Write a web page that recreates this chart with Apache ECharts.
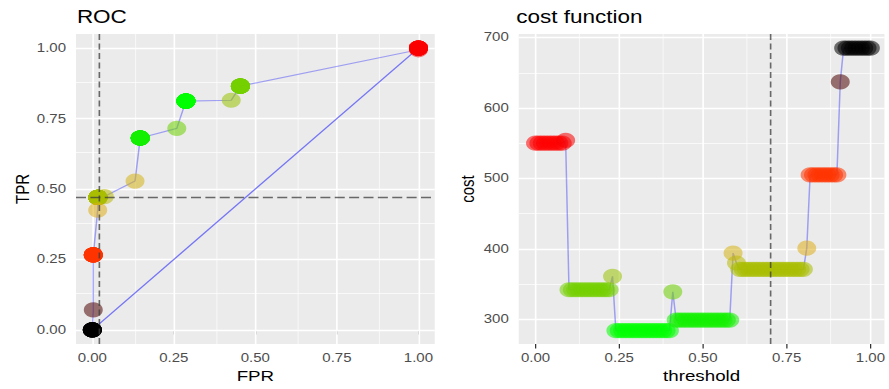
<!DOCTYPE html>
<html>
<head>
<meta charset="utf-8">
<script src="https://cdn.jsdelivr.net/npm/echarts@6/dist/echarts.min.js"></script>
<style>
html,body{margin:0;padding:0;background:#fff;overflow:hidden}
#wrap{width:889px;height:389px;overflow:hidden;position:relative}
#chart{width:711.2px;height:389px;transform:scaleX(1.25);transform-origin:0 0}
</style>
</head>
<body>
<div id="wrap"><div id="chart"></div></div>
<script>
// ---------------- data ----------------
const threshold = [
  0.00,0.01,0.02,0.03,0.04,0.05,0.06,0.07,0.08,0.09,
  0.10,0.11,0.12,0.13,0.14,0.15,0.16,0.17,0.18,0.19,
  0.20,0.21,0.22,0.23,0.24,0.25,0.26,0.27,0.28,0.29,
  0.30,0.31,0.32,0.33,0.34,0.35,0.36,0.37,0.38,0.39,
  0.40,0.41,0.42,0.43,0.44,0.45,0.46,0.47,0.48,0.49,
  0.50,0.51,0.52,0.53,0.54,0.55,0.56,0.57,0.58,0.59,
  0.60,0.61,0.62,0.63,0.64,0.65,0.66,0.67,0.68,0.69,
  0.70,0.71,0.72,0.73,0.74,0.75,0.76,0.77,0.78,0.79,
  0.80,0.81,0.82,0.83,0.84,0.85,0.86,0.87,0.88,0.89,
  0.90,0.91,0.92,0.93,0.94,0.95,0.96,0.97,0.98,0.99,
  1.00
];
const cost = [
  550,550,550,550,550,550,550,550,550,554,
  342,342,342,342,342,342,342,342,342,342,
  342,342,342,361,284,284,284,284,284,284,
  284,284,284,284,284,284,284,284,284,284,
  284,339,299,299,299,299,299,299,299,299,
  299,299,299,299,299,299,299,299,299,394,
  380,371,371,371,371,371,371,371,371,371,
  371,371,371,371,371,371,371,371,371,371,
  371,401,505,505,505,505,505,505,505,505,
  505,637,685,685,685,685,685,685,685,685,
  685
];
const fpr = [
  1,1,1,1,1,1,1,1,1,1,
  0.454,0.454,0.454,0.454,0.454,0.454,0.454,0.454,0.454,0.454,
  0.454,0.454,0.454,0.426,0.287,0.287,0.287,0.287,0.287,0.287,
  0.287,0.287,0.287,0.287,0.287,0.287,0.287,0.287,0.287,0.287,
  0.287,0.259,0.147,0.147,0.147,0.147,0.147,0.147,0.147,0.147,
  0.147,0.147,0.147,0.147,0.147,0.147,0.147,0.147,0.147,0.131,
  0.037,0.017,0.017,0.017,0.017,0.017,0.017,0.017,0.017,0.017,
  0.017,0.017,0.017,0.017,0.017,0.017,0.017,0.017,0.017,0.017,
  0.017,0.0165,0.003,0.003,0.003,0.003,0.003,0.003,0.003,0.003,
  0.003,0.003,0,0,0,0,0,0,0,0,
  0
];
const tpr = [
  1,1,1,1,1,1,1,1,1,0.994,
  0.865,0.865,0.865,0.865,0.865,0.865,0.865,0.865,0.865,0.865,
  0.865,0.865,0.865,0.815,0.812,0.812,0.812,0.812,0.812,0.812,
  0.812,0.812,0.812,0.812,0.812,0.812,0.812,0.812,0.812,0.812,
  0.812,0.715,0.681,0.681,0.681,0.681,0.681,0.681,0.681,0.681,
  0.681,0.681,0.681,0.681,0.681,0.681,0.681,0.681,0.681,0.528,
  0.473,0.470,0.470,0.470,0.470,0.470,0.470,0.470,0.470,0.470,
  0.470,0.470,0.470,0.470,0.470,0.470,0.470,0.470,0.470,0.470,
  0.470,0.425,0.266,0.266,0.266,0.266,0.266,0.266,0.266,0.266,
  0.266,0.071,0,0,0,0,0,0,0,0,
  0
];
const diagFPR = [0, 1];
const diagTPR = [0, 1];
const bestThreshold = 0.70;
const bestFPR = 0.0175;
const bestTPR = 0.4705;

const rocTicks = [0, 0.25, 0.5, 0.75, 1];
const rocMinor = [0.125, 0.375, 0.625, 0.875];
const thrTicks = [0, 0.25, 0.5, 0.75, 1];
const thrMinor = [0.125, 0.375, 0.625, 0.875];
const costTicks = [300, 400, 500, 600, 700];
const costMinor = [350, 450, 550, 650];

// ---------------- styling ----------------
const FONT = '"Liberation Sans", Arial, Helvetica, sans-serif';
const GRAD = [
  [284,[0,255,0]],[300,[20,240,0]],[340,[112,208,0]],[370,[168,190,0]],
  [395,[215,178,25]],[402,[222,172,25]],[505,[255,51,0]],[550,[255,0,0]],
  [637,[80,5,5]],[685,[0,0,0]]
];
function costColor(c) {
  if (c <= GRAD[0][0]) return 'rgb(' + GRAD[0][1].join(',') + ')';
  for (let i = 1; i < GRAD.length; i++) {
    if (c <= GRAD[i][0]) {
      const a = GRAD[i-1], b = GRAD[i];
      const t = (c - a[0]) / (b[0] - a[0]);
      const rgb = a[1].map((v, k) => Math.round(v + (b[1][k] - v) * t));
      return 'rgb(' + rgb.join(',') + ')';
    }
  }
  return 'rgb(' + GRAD[GRAD.length-1][1].join(',') + ')';
}

const rocPts = fpr.map((f, i) => [f, tpr[i], cost[i]]);
const costPts = threshold.map((t, i) => [t, cost[i], cost[i]]);
const diagPts = diagFPR.map((f, i) => [f, diagTPR[i]]);

function gridLines(xMaj, xMin, yMaj, yMin) {
  const d = [];
  xMin.forEach(v => d.push({xAxis: v, lineStyle: {width: 0.6}}));
  yMin.forEach(v => d.push({yAxis: v, lineStyle: {width: 0.6}}));
  xMaj.forEach(v => d.push({xAxis: v, lineStyle: {width: 1.3}}));
  yMaj.forEach(v => d.push({yAxis: v, lineStyle: {width: 1.3}}));
  return d;
}
const tickLabel = {color: '#4D4D4D', fontSize: 12, fontFamily: FONT, margin: 8};
const tickStyle = {show: true, length: 4.5, lineStyle: {color: '#333333', width: 1}};
const nameStyle = {color: '#000', fontSize: 15, fontFamily: FONT};

function xAxisDef(grid, min, max, ticks, name) {
  return {
    gridIndex: grid, type: 'value', min: min, max: max,
    axisLine: {show: false},
    axisTick: Object.assign({customValues: ticks}, tickStyle),
    axisLabel: Object.assign({customValues: ticks, formatter: v => v.toFixed(2)}, tickLabel),
    splitLine: {show: false},
    name: name, nameLocation: 'middle', nameGap: 25, nameTextStyle: nameStyle
  };
}
function yAxisDef(grid, min, max, ticks, fmt, name, gap) {
  return {
    gridIndex: grid, type: 'value', min: min, max: max,
    axisLine: {show: false},
    axisTick: Object.assign({customValues: ticks}, tickStyle),
    axisLabel: Object.assign({customValues: ticks, formatter: fmt}, tickLabel),
    splitLine: {show: false},
    name: name, nameLocation: 'middle', nameGap: gap, nameTextStyle: nameStyle
  };
}
const ml = (data, extra) => Object.assign({
  silent: true, symbol: ['none', 'none'], label: {show: false},
  animation: false, data: data
}, extra || {});

const chart = echarts.init(document.getElementById('chart'), null, {renderer: 'svg'});
chart.setOption({
  animation: false,
  backgroundColor: '#FFFFFF',
  title: [
    {text: 'ROC', left: 61.5, top: 8, padding: 0,
     textStyle: {fontFamily: FONT, fontSize: 18, fontWeight: 'normal', color: '#000'}},
    {text: 'cost function', left: 413, top: 8, padding: 0,
     textStyle: {fontFamily: FONT, fontSize: 18, fontWeight: 'normal', color: '#000'}}
  ],
  grid: [
    {left: 60.8, right: 363.2, top: 34, bottom: 43.5, show: true, backgroundColor: '#EBEBEB', borderWidth: 0},
    {left: 415, right: 0.6, top: 34, bottom: 43.5, show: true, backgroundColor: '#EBEBEB', borderWidth: 0}
  ],
  xAxis: [
    xAxisDef(0, -0.05, 1.05, rocTicks, 'FPR'),
    xAxisDef(1, -0.05, 1.042, thrTicks, 'threshold')
  ],
  yAxis: [
    yAxisDef(0, -0.05, 1.05, rocTicks, v => v.toFixed(2), 'TPR', 31.7),
    yAxisDef(1, 265, 705, costTicks, v => String(v), 'cost', 33.5)
  ],
  series: [
    {type: 'line', xAxisIndex: 0, yAxisIndex: 0, data: [], z: 1, silent: true,
     markLine: ml(gridLines(rocTicks, rocMinor, rocTicks, rocMinor), {z: 1, lineStyle: {color: '#FFFFFF', type: 'solid'}})},
    {type: 'line', xAxisIndex: 1, yAxisIndex: 1, data: [], z: 1, silent: true,
     markLine: ml(gridLines(thrTicks, thrMinor, costTicks, costMinor), {z: 1, lineStyle: {color: '#FFFFFF', type: 'solid'}})},
    {type: 'line', xAxisIndex: 0, yAxisIndex: 0, data: diagPts, z: 2, silent: true,
     symbol: 'none', lineStyle: {color: 'rgba(0,0,255,0.5)', width: 1.2}},
    {type: 'line', xAxisIndex: 0, yAxisIndex: 0, data: rocPts, z: 2, silent: true,
     symbol: 'none', lineStyle: {color: 'rgba(0,0,255,0.33)', width: 1.2}},
    {type: 'scatter', xAxisIndex: 0, yAxisIndex: 0, data: rocPts, z: 3, silent: true,
     symbol: 'circle', symbolSize: 15.2, emphasis: {disabled: true},
     itemStyle: {color: p => costColor(p.value[2]), opacity: 0.55}},
    {type: 'line', xAxisIndex: 0, yAxisIndex: 0, data: [], z: 5, silent: true,
     markLine: ml([
       {xAxis: bestFPR, lineStyle: {type: [6, 3.5]}},
       {yAxis: bestTPR, lineStyle: {type: [8, 3.5]}}
     ], {z: 6, lineStyle: {color: 'rgba(60,60,60,0.75)', width: 1.3}})},
    {type: 'line', xAxisIndex: 1, yAxisIndex: 1, data: costPts, z: 2, silent: true,
     symbol: 'none', lineStyle: {color: 'rgba(0,0,255,0.33)', width: 1.2}},
    {type: 'scatter', xAxisIndex: 1, yAxisIndex: 1, data: costPts, z: 3, silent: true,
     symbol: 'circle', symbolSize: 15.2, emphasis: {disabled: true},
     itemStyle: {color: p => costColor(p.value[2]), opacity: 0.55}},
    {type: 'line', xAxisIndex: 1, yAxisIndex: 1, data: [], z: 5, silent: true,
     markLine: ml([
       {xAxis: bestThreshold, lineStyle: {type: [6, 3.5]}}
     ], {z: 6, lineStyle: {color: 'rgba(60,60,60,0.75)', width: 1.3}})}
  ]
});
</script>
</body>
</html>
